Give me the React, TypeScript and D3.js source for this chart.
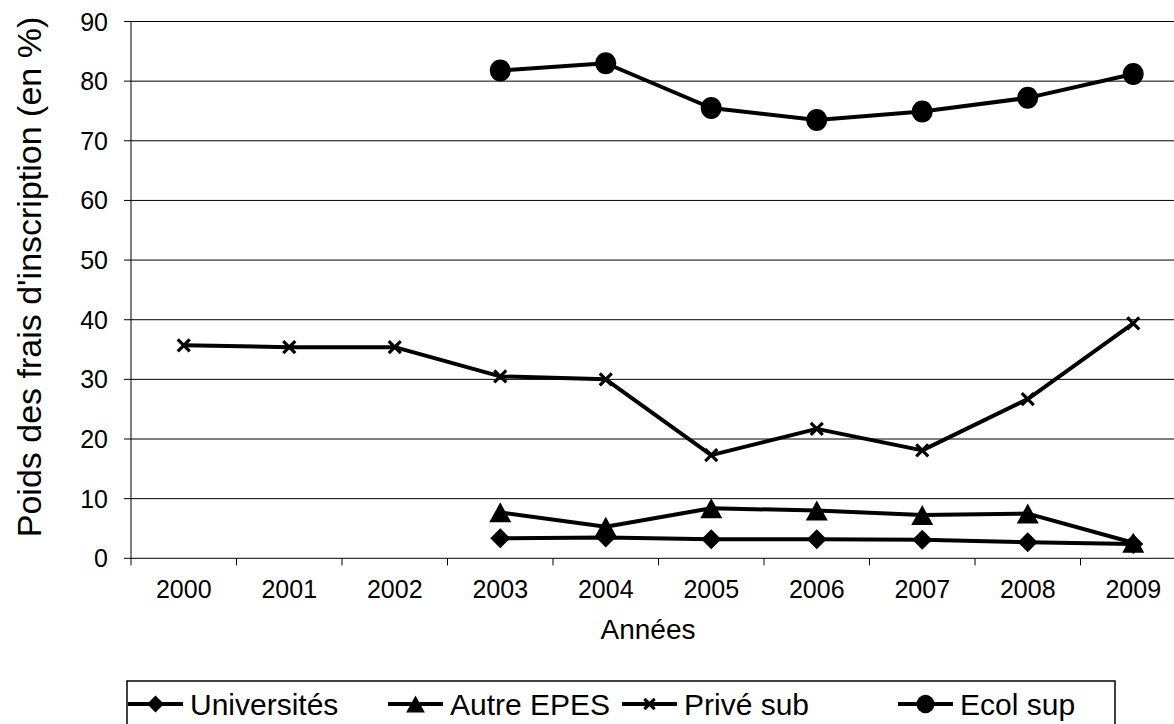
import React from "react";
import * as d3 from "d3";

const years = ["2000", "2001", "2002", "2003", "2004", "2005", "2006", "2007", "2008", "2009"];
const yTicks = [0, 10, 20, 30, 40, 50, 60, 70, 80, 90];

const universites: (number | null)[] = [null, null, null, 3.35, 3.5, 3.2, 3.2, 3.1, 2.7, 2.4];
const autreEpes: (number | null)[] = [null, null, null, 7.7, 5.3, 8.4, 8.0, 7.25, 7.5, 2.6];
const priveSub: (number | null)[] = [35.7, 35.4, 35.4, 30.5, 30.0, 17.3, 21.7, 18.1, 26.7, 39.4];
const ecolSup: (number | null)[] = [null, null, null, 81.8, 83.0, 75.5, 73.5, 74.9, 77.2, 81.2];

const seriesNames = ["Universités", "Autre EPES", "Privé sub", "Ecol sup"];
const seriesValues = [universites, autreEpes, priveSub, ecolSup];
const seriesMarkers = ["diamond", "triangle", "x", "circle"];

const W = 1174;
const H = 724;
const FONT = "'Liberation Sans', Arial, sans-serif";

function Marker({ kind, x, y, s = 1 }: { kind: string; x: number; y: number; s?: number }) {
  if (kind === "diamond") {
    const h = 10 * s;
    return <path d={`M${x},${y - h}L${x + h},${y}L${x},${y + h}L${x - h},${y}Z`} fill="#000" />;
  }
  if (kind === "triangle") {
    const w = 11 * s;
    const h = 10 * s;
    return <path d={`M${x},${y - h}L${x + w},${y + h}L${x - w},${y + h}Z`} fill="#000" />;
  }
  if (kind === "x") {
    const h = 6 * s;
    return (
      <g stroke="#000" strokeWidth={3.2}>
        <line x1={x - h} y1={y - h} x2={x + h} y2={y + h} />
        <line x1={x - h} y1={y + h} x2={x + h} y2={y - h} />
      </g>
    );
  }
  return <ellipse cx={x} cy={y} rx={10.5 * s} ry={11 * s} fill="#000" />;
}

export default function App() {
  const x = d3.scaleBand<string>().domain(years).range([131, 1186]).padding(0);
  const y = d3.scaleLinear().domain([0, 90]).range([558.3, 21.5]);
  const bw = x.bandwidth();
  const cx = (yr: string) => (x(yr) as number) + bw / 2;

  const line = d3
    .line<number | null>()
    .defined((d) => d !== null)
    .x((_, i) => cx(years[i]))
    .y((d) => y(d as number));

  const legendX = [128, 388, 622, 898];

  return (
    <svg
      width={W}
      height={H}
      style={{ position: "absolute", left: 0, top: 0, background: "#fff" }}
      fontFamily={FONT}
    >
      <rect x={0} y={0} width={W} height={H} fill="#fff" />
      {yTicks.map((t) => (
        <line key={t} x1={124} x2={1186} y1={y(t)} y2={y(t)} stroke="#000" strokeWidth={1} />
      ))}
      <line x1={131} x2={131} y1={y(90)} y2={y(0)} stroke="#000" strokeWidth={1} />
      {years.map((yr) => (
        <line key={yr} x1={x(yr) as number} x2={x(yr) as number} y1={y(0)} y2={y(0) + 7} stroke="#000" />
      ))}
      {yTicks.map((t) => (
        <text key={t} x={108} y={y(t) + 9} textAnchor="end" fontSize={25}>
          {t}
        </text>
      ))}
      {years.map((yr) => (
        <text key={yr} x={cx(yr)} y={598} textAnchor="middle" fontSize={25}>
          {yr}
        </text>
      ))}
      <text x={648} y={639} textAnchor="middle" fontSize={28}>
        Années
      </text>
      <text transform="translate(41,277) rotate(-90)" textAnchor="middle" fontSize={34}>
        Poids des frais d'inscription (en %)
      </text>
      {seriesValues.map((vals, si) => (
        <g key={si}>
          <path d={line(vals) || ""} fill="none" stroke="#000" strokeWidth={4} strokeLinejoin="round" />
          {vals.map((v, i) =>
            v === null ? null : <Marker key={i} kind={seriesMarkers[si]} x={cx(years[i])} y={y(v)} />
          )}
        </g>
      ))}
      <rect x={127} y={681} width={988} height={60} fill="none" stroke="#000" strokeWidth={1.5} />
      {seriesNames.map((n, i) => (
        <g key={n}>
          <line x1={legendX[i]} x2={legendX[i] + 55} y1={704} y2={704} stroke="#000" strokeWidth={4} />
          <Marker kind={seriesMarkers[i]} x={legendX[i] + 27.5} y={704} s={0.85} />
          <text x={legendX[i] + 62} y={715} fontSize={30}>
            {n}
          </text>
        </g>
      ))}
    </svg>
  );
}
